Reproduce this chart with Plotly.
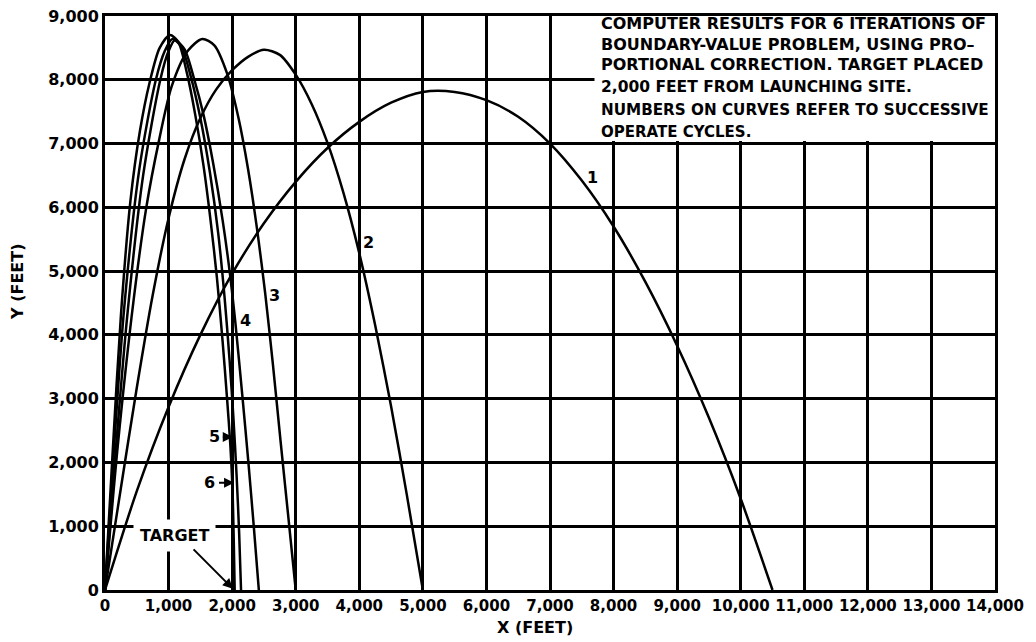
import plotly.graph_objects as go

# ---- data (feet) ----
tick_vals_x = list(range(0, 14001, 1000))
tick_text_x = ["0", "1,000", "2,000", "3,000", "4,000", "5,000", "6,000", "7,000",
               "8,000", "9,000", "10,000", "11,000", "12,000", "13,000", "14,000"]
tick_vals_y = list(range(0, 9001, 1000))
tick_text_y = ["0", "1,000", "2,000", "3,000", "4,000", "5,000", "6,000", "7,000", "8,000", "9,000"]

c1_x = [0, 500, 1000, 1500, 2000, 2500, 3000, 3500, 4000, 4500, 5000, 5500,
        6000, 6500, 7000, 7500, 8000, 8500, 9000, 9500, 10000, 10500]
c1_y = [0, 1550, 2870, 4000, 4960, 5750, 6400, 6930, 7340, 7640, 7810, 7810,
        7680, 7420, 7000, 6420, 5700, 4830, 3830, 2700, 1430, 0]

c2_x = [0, 250, 500, 750, 1000, 1250, 1500, 1750, 2000, 2250, 2500, 2750, 3000,
        3250, 3500, 3750, 4000, 4250, 4500, 4750, 5000]
c2_y = [0, 1600, 3170, 4620, 5830, 6750, 7400, 7850, 8150, 8360, 8470, 8390, 8080,
        7620, 7010, 6230, 5280, 4150, 2880, 1480, 0]

c3_x = [0, 200, 450, 650, 850, 1050, 1300, 1530, 1720, 1920, 2100, 2250, 2400, 2520,
        2640, 2760, 2880, 3000]
c3_y = [0, 2250, 4545, 6000, 7050, 7900, 8450, 8640, 8540, 8100, 7400, 6600, 5600, 4650,
        3550, 2350, 1180, 0]

c4_x = [0, 170, 350, 600, 870, 1000, 1100, 1250, 1400, 1550, 1700, 1850, 1960, 2050,
        2160, 2260, 2340, 2420]
c4_y = [0, 2200, 4300, 6500, 8000, 8450, 8620, 8480, 8020, 7450, 6700, 5800, 5000, 4200,
        3050, 1950, 1000, 0]

c5_x = [0, 140, 300, 540, 800, 940, 1060, 1200, 1350, 1500, 1650, 1780, 1880, 1960,
        2020, 2070, 2110, 2140]
c5_y = [0, 2200, 4400, 6600, 8000, 8450, 8640, 8520, 8050, 7400, 6550, 5600, 4600, 3600,
        2700, 1800, 900, 0]

c6_x = [0, 120, 250, 400, 550, 700, 860, 1020, 1150, 1290, 1420, 1550, 1660, 1760,
        1850, 1920, 1970, 2005, 2025, 2040]
c6_y = [0, 2150, 4300, 6100, 7200, 7950, 8500, 8700, 8600, 8100, 7450, 6650, 5800, 4900,
        3900, 3000, 2300, 1600, 800, 0]

curves = [(c1_x, c1_y), (c2_x, c2_y), (c3_x, c3_y), (c4_x, c4_y), (c5_x, c5_y), (c6_x, c6_y)]

curve_labels = ["1", "2", "3", "4", "5", "6"]
label_x = [7667, 4145, 2667, 2212, 1720, 1650]
label_y = [6470, 5455, 4620, 4230, 2400, 1680]

note_lines = [
    "COMPUTER RESULTS FOR 6 ITERATIONS OF",
    "BOUNDARY-VALUE PROBLEM, USING PRO–",
    "PORTIONAL CORRECTION. TARGET PLACED",
    "2,000 FEET FROM LAUNCHING SITE.",
    "NUMBERS ON CURVES REFER TO SUCCESSIVE",
    "OPERATE CYCLES.",
]
note_y = [8875, 8561, 8232, 7887, 7526, 7181]
note_size = [16, 16, 16, 15.5, 15.2, 15]

FONT = "DejaVu Sans"


def fnt(size):
    return dict(family=FONT, size=size, color="black", weight="bold")


fig = go.Figure()
for (xs, ys) in curves:
    fig.add_trace(go.Scatter(x=xs, y=ys, mode="lines",
                             line=dict(color="black", width=2.5, shape="spline", smoothing=0.8),
                             showlegend=False, hoverinfo="skip"))

annotations = []
for t, lx, ly in zip(curve_labels, label_x, label_y):
    annotations.append(dict(x=lx, y=ly, xref="x", yref="y", text=t, showarrow=False,
                            font=fnt(16)))
# arrows for 5 and 6
annotations.append(dict(x=2010, y=2400, xref="x", yref="y", ax=1830, ay=2400,
                        axref="x", ayref="y", text="", showarrow=True,
                        arrowhead=2, arrowsize=1, arrowwidth=2, arrowcolor="black"))
annotations.append(dict(x=2030, y=1680, xref="x", yref="y", ax=1770, ay=1680,
                        axref="x", ayref="y", text="", showarrow=True,
                        arrowhead=2, arrowsize=1, arrowwidth=2, arrowcolor="black"))
# target
annotations.append(dict(x=1100, y=850, xref="x", yref="y", text="TARGET", showarrow=False,
                        bgcolor="white", borderpad=6, font=fnt(16)))
annotations.append(dict(x=2010, y=20, xref="x", yref="y", ax=1370, ay=660,
                        axref="x", ayref="y", text="", showarrow=True,
                        arrowhead=2, arrowsize=1, arrowwidth=2, arrowcolor="black"))
for line, ny, sz in zip(note_lines, note_y, note_size):
    annotations.append(dict(x=7771, y=ny, xref="x", yref="y", text=line, showarrow=False,
                            xanchor="left", yanchor="middle", font=fnt(sz)))
# axis titles (positions given in page pixels, converted to paper coords)
annotations.append(dict(x=17, y=282, text="Y (FEET)", showarrow=False, textangle=-90,
                        xanchor="center", yanchor="middle", font=fnt(16)))
annotations.append(dict(x=535, y=628, text="X (FEET)", showarrow=False,
                        xanchor="center", yanchor="middle", font=fnt(16)))
for a in annotations[-2:]:
    a["xref"] = "paper"
    a["yref"] = "paper"
    a["x"] = (a["x"] - 105) / 890
    a["y"] = (590 - a["y"]) / 574

fig.update_layout(
    width=1036, height=642,
    margin=dict(l=105, r=41, t=16, b=52, autoexpand=False),
    plot_bgcolor="white", paper_bgcolor="white",
    font=fnt(16),
    annotations=annotations,
    shapes=[dict(type="rect", xref="x", yref="y", x0=7700, x1=14000, y0=7040, y1=9000,
                 fillcolor="white", line=dict(width=0), layer="between")],
    xaxis=dict(range=[0, 14000], tickvals=tick_vals_x, ticktext=tick_text_x, tickangle=0,
               showgrid=True, gridcolor="black", gridwidth=2.5, zeroline=False,
               showline=True, linecolor="black", linewidth=3, mirror=True, automargin=False,
               ticks="", tickfont=fnt(15), fixedrange=True),
    yaxis=dict(range=[0, 9000], tickvals=tick_vals_y, ticktext=tick_text_y,
               showgrid=True, gridcolor="black", gridwidth=2.5, zeroline=False,
               showline=True, linecolor="black", linewidth=3, mirror=True, automargin=False,
               ticks="", tickfont=fnt(16), fixedrange=True),
)

# remove the default 8px page margin so the figure sits at the window's top-left corner
fig.write_html("out.html", config={"displayModeBar": False},
               post_script="document.body.style.margin='0px';")
